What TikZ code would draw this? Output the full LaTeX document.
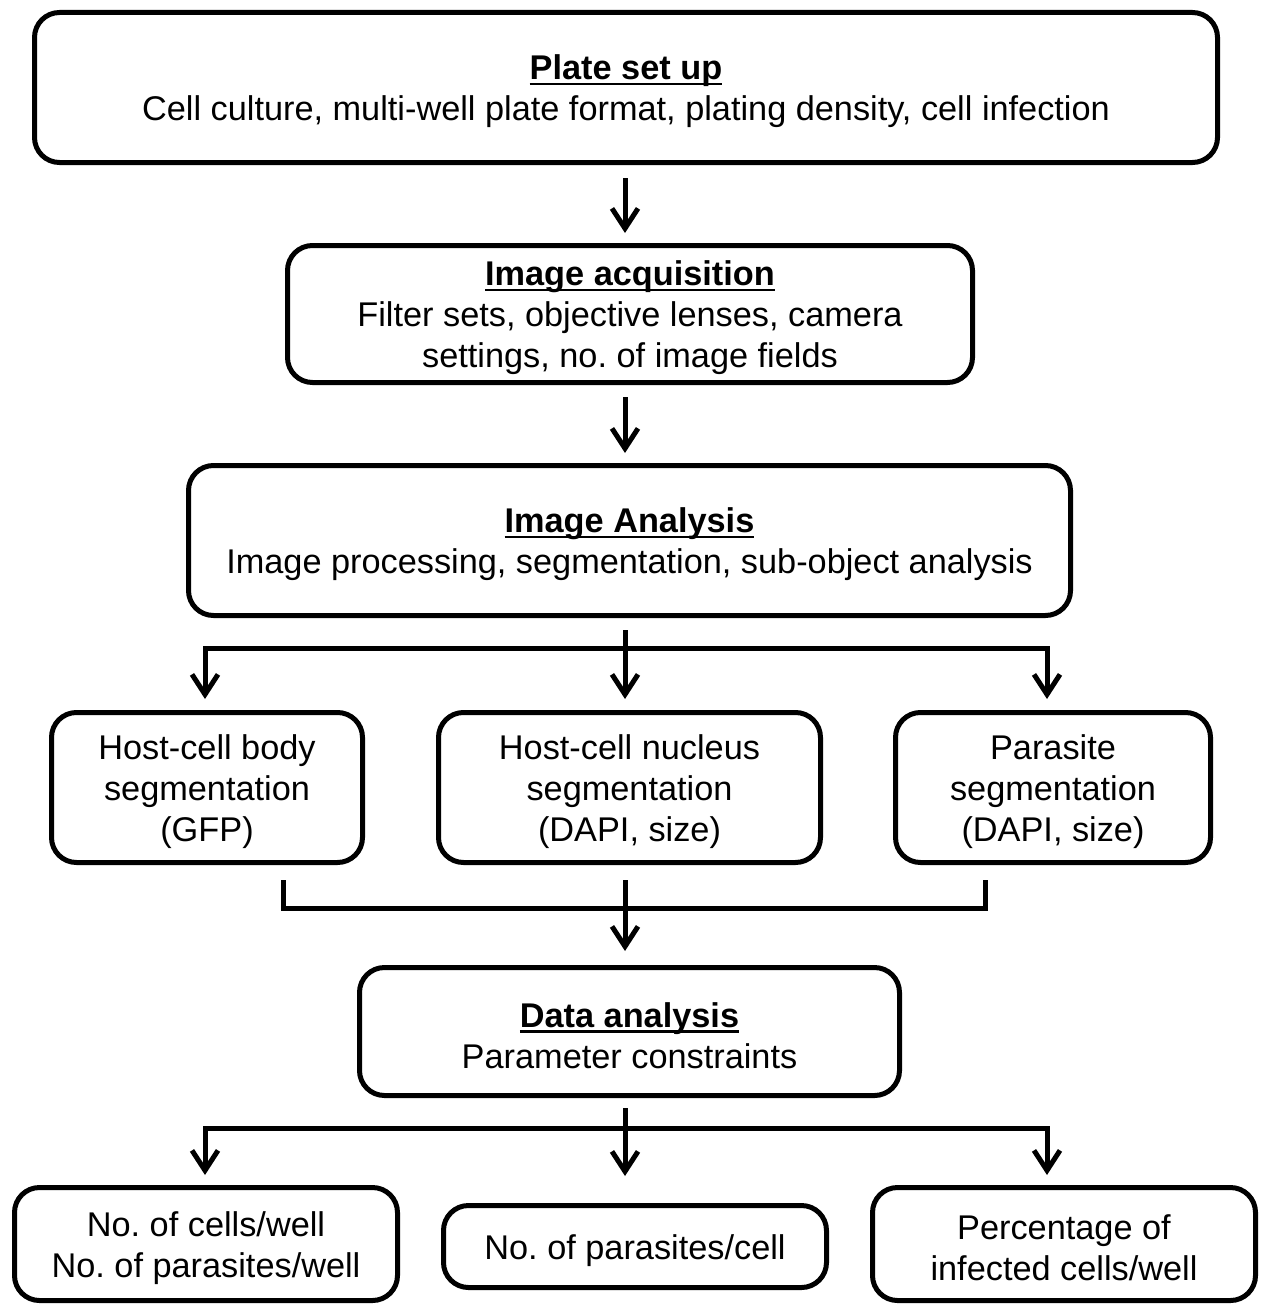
\documentclass[tikz,border=0pt]{standalone}
\usepackage{fontspec}
\setmainfont{Liberation Sans}
\frenchspacing
\usetikzlibrary{arrows.meta,calc}
\newcommand\hd[1]{\setbox0\hbox{\textbf{#1}}\rlap{\vrule height -2.8pt depth 5.6pt width \wd0}\box0}
\begin{document}
\begin{tikzpicture}[x=1pt,y=-1pt,
  box/.style={draw=black,line width=5pt,rounded corners=25pt,inner sep=0pt,fill=white},
  txt/.style={align=center,inner sep=0pt,font=\fontsize{34.3}{41}\selectfont},
  arr/.style={line width=5pt,-{Straight Barb[length=20pt,width=26pt,line width=5pt]}},
  conn/.style={line width=5pt}]
\useasboundingbox (0,0) rectangle (1268,1306);
\node[box,minimum width=1183,minimum height=150] (plate) at (626,87.5) {};
\node[txt] (plate-t) at (626,91.5)
  {\hd{Plate set up}\\Cell culture, multi-well plate format, plating density, cell infection};
\node[box,minimum width=685,minimum height=137] (acq) at (630,314) {};
\node[txt] (acq-t) at (630,318)
  {\hd{Image acquisition}\\Filter sets, objective lenses, camera\\settings, no. of image fields};
\node[box,minimum width=882,minimum height=150] (ana) at (629.5,540.5) {};
\node[txt] (ana-t) at (629.5,544.5)
  {\hd{Image Analysis}\\Image processing, segmentation, sub-object analysis};
\node[box,minimum width=311,minimum height=150] (body) at (207,787.5) {};
\node[txt] (body-t) at (207,791.5) {Host-cell body\\segmentation\\(GFP)};
\node[box,minimum width=382,minimum height=150] (nuc) at (629.5,787.5) {};
\node[txt] (nuc-t) at (629.5,791.5) {Host-cell nucleus\\segmentation\\(DAPI, size)};
\node[box,minimum width=315,minimum height=150] (para) at (1053,787.5) {};
\node[txt] (para-t) at (1053,791.5) {Parasite\\segmentation\\(DAPI, size)};
\node[box,minimum width=540,minimum height=128] (data) at (629.5,1031.5) {};
\node[txt] (data-t) at (629.5,1035.5) {\hd{Data analysis}\\Parameter constraints};
\node[box,minimum width=383,minimum height=113] (cells) at (206,1244) {};
\node[txt] (cells-t) at (206,1248) {No. of cells/well\\No. of parasites/well};
\node[box,minimum width=383,minimum height=82] (ppc) at (635,1246.5) {};
\node[txt] (ppc-t) at (635,1250.5) {No. of parasites/cell};
\node[box,minimum width=383,minimum height=113] (pct) at (1064,1244) {};
\node[txt] (pct-t) at (1064,1248) {Percentage of\\infected cells/well};
% coordinates
\coordinate (c1) at (625,178);
\coordinate (c2) at (625,397);
\coordinate (c3) at (625,630);
\coordinate (c4) at (625,908);
\coordinate (c5) at (625,1108);
% arrows
\draw[arr] (c1) -- ($(c1 |- acq.north)+(0,-10)$);
\draw[arr] (c2) -- ($(c2 |- ana.north)+(0,-10)$);
% branch 1
\draw[arr] (c3) -- ($(c3 |- nuc.north)+(0,-11)$);
\draw[arr] (c3 |- 0,648) -| ($(body.north -| 205,0)+(0,-11)$);
\draw[arr] (c3 |- 0,648) -| ($(para.north -| 1047,0)+(0,-11)$);
% merge
\draw[conn] ($(body.south -| 283,0)+(0,15)$) |- (c4) -| ($(para.south -| 985,0)+(0,15)$);
\draw[arr] ($(nuc.south -| c4)+(0,15)$) -- ($(c4 |- data.north)+(0,-14)$);
% branch 2
\draw[arr] (c5) -- ($(c5 |- ppc.north)+(0,-27)$);
\draw[arr] (c5 |- 0,1128) -| ($(cells.north -| 205,0)+(0,-10)$);
\draw[arr] (c5 |- 0,1128) -| ($(pct.north -| 1047,0)+(0,-10)$);
\end{tikzpicture}
\end{document}
